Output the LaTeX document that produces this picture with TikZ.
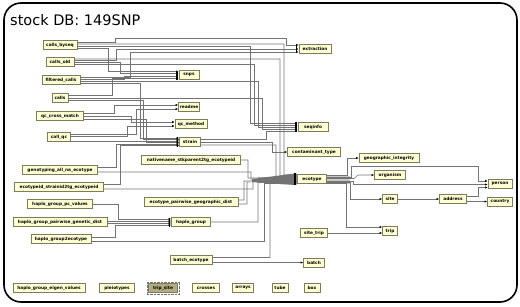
\documentclass[tikz,border=0pt]{standalone}
\usepackage{fontspec}
\setmainfont{DejaVu Sans}
\usetikzlibrary{arrows.meta,calc}
\definecolor{tblfill}{RGB}{255,255,212}
\definecolor{tbldraw}{RGB}{125,125,90}
\definecolor{selfill}{RGB}{178,172,128}
\definecolor{linec}{RGB}{115,115,115}
\begin{document}
\begin{tikzpicture}[x=1pt,y=-1pt,
  tbl/.style={draw=tbldraw, line width=0.5pt, fill=tblfill, minimum height=9pt,
    inner xsep=1pt, inner ysep=0pt, font=\fontsize{4.3}{5}\selectfont\bfseries},
  e/.style={draw=linec, line width=0.6pt, -{Latex[length=2.6pt,width=2.2pt,color=black]}},
  barr/.style={fill=black}]
\useasboundingbox (0,0) rectangle (520,306);
\draw[line width=1.6pt, rounded corners=17pt] (4,3) rectangle (517,302);
\node[anchor=base west, inner sep=0pt, font=\fontsize{14.5}{16}\selectfont] (title) at (10,25) {stock DB: 149SNP};

% ---- tables ----
\node[tbl, minimum width=34pt] (cb)  at (60,45)  {calls\_byseq};
\node[tbl, minimum width=28pt] (co)  at (60,62)  {calls\_old};
\node[tbl, minimum width=38pt] (fc)  at (61,80)  {filtered\_calls};
\node[tbl, minimum width=16pt] (ca)  at (60,98)  {calls};
\node[tbl, minimum width=20pt] (snps) at (189,75) {snps};
\node[tbl, minimum width=21pt] (rd)  at (189,107) {readme};
\node[tbl, minimum width=47pt] (qcm) at (60,116) {qc\_cross\_match};
\node[tbl, minimum width=32pt] (qme) at (191,124) {qc\_method};
\node[tbl, minimum width=23pt] (cq)  at (59,137) {call\_qc};
\node[tbl, minimum width=21pt] (st)  at (190,142) {strain};
\node[tbl, minimum width=99pt] (nat) at (191,160) {nativename\_stkparent2tg\_ecotypeid};
\node[tbl, minimum width=75pt] (gt)  at (60,170) {genotyping\_all\_na\_ecotype};
\node[tbl, minimum width=89pt] (es)  at (59,187) {ecotypeid\_strainid2tg\_ecotypeid};
\node[tbl, minimum width=94pt] (epg) at (191,202) {ecotype\_pairwise\_geographic\_dist};
\node[tbl, minimum width=65pt] (hpc) at (60,204) {haplo\_group\_pc\_values};
\node[tbl, minimum width=94pt] (hpg) at (60,222) {haplo\_group\_pairwise\_genetic\_dist};
\node[tbl, minimum width=39pt] (hg)  at (191,222) {haplo\_group};
\node[tbl, minimum width=60pt] (h2e) at (61,239) {haplo\_group2ecotype};
\node[tbl, minimum width=42pt] (be)  at (191,260) {batch\_ecotype};
\node[tbl, minimum width=72pt] (hev) at (49,288) {haplo\_group\_eigen\_values};
\node[tbl, minimum width=35pt] (plt) at (117,288) {pleiotypes};
\node[tbl, minimum width=29pt, fill=selfill] (ts) at (163,288) {trip\_site};
\node[tbl, minimum width=27pt] (cr)  at (206,288) {crosses};
\node[tbl, minimum width=21pt] (ar)  at (243,288) {arrays};
\node[tbl, minimum width=16pt] (tu)  at (280,288) {tube};
\node[tbl, minimum width=16pt] (bx)  at (312,288) {box};
\node[tbl, minimum width=32pt] (ext) at (315,48.5) {extraction};
\node[tbl, minimum width=30pt] (seq) at (313,127) {seqinfo};
\node[tbl, minimum width=53pt] (ct)  at (314,152) {contaminant\_type};
\node[tbl, minimum width=60pt] (gi)  at (389,158) {geographic\_integrity};
\node[tbl, minimum width=29pt] (eco) at (312,179) {ecotype};
\node[tbl, minimum width=31pt] (org) at (390,175) {organism};
\node[tbl, minimum width=24pt] (per) at (500,184) {person};
\node[tbl, minimum width=15pt] (site) at (390,199) {site};
\node[tbl, minimum width=27pt] (adr) at (453,199) {address};
\node[tbl, minimum width=25pt] (cty) at (500,201.5) {country};
\node[tbl, minimum width=15pt] (trip) at (390,231) {trip};
\node[tbl, minimum width=27pt] (stp) at (314,233) {site\_trip};
\node[tbl, minimum width=21pt] (bat) at (314,262.5) {batch};
\draw[densely dotted, black!55, line width=0.4pt] ($(ts.north west)+(-1.5,-1.5)$) rectangle ($(ts.south east)+(1.5,1.5)$);

% ---- cone and bundle shading ----
\fill[black!55] (252,179) -- (295,173.5) -- (295,185) -- (252,182) -- cycle;
\fill[black!22] ($(eco.east)+(0,-3.5)$) rectangle (350,183.5);

% ---- extraction ----
\draw[e] ($(cb.east)+(0,-3)$) -| (115,38) -| (286,45) -- ($(ext.west)+(0,-3.5)$);
\draw[e] ($(co.east)+(0,-1.5)$) -| (116,49) -- ($(ext.west)+(0,0.5)$);
\draw[e] ($(fc.east)+(0,-3)$) -| (130,52) -- ($(ext.west)+(0,3.5)$);
% ---- snps ----
\draw[e] ($(cb.east)+(0,3)$) -| (108,71.5) -- ($(snps.west)+(0,-3.5)$);
\draw[e] ($(co.east)+(0,0.5)$) -| (120,73.5) -- ($(snps.west)+(0,-1.5)$);
\draw[e] ($(fc.east)+(0,-1)$) -| (124,76) -- ($(snps.west)+(0,1)$);
\draw[e] ($(ca.east)+(0,-2.5)$) -| (112,78.5) -- ($(snps.west)+(0,3.5)$);
% ---- seqinfo ----
\draw[e] ($(cb.east)+(0,1)$) -| (250,123) -- ($(seq.west)+(0,-4)$);
\draw[e] ($(co.east)+(0,2.5)$) -| (254,125) -- ($(seq.west)+(0,-2)$);
\draw[e] ($(fc.east)+(0,1)$) -| (258,127) -- (seq.west);
\draw[e] (ca.east) -| (262,129) -- ($(seq.west)+(0,2)$);
\draw[e] ($(st.east)+(0,-3)$) -| (266,131) -- ($(seq.west)+(0,4)$);
% ---- readme / qc_method ----
\draw[e] ($(qcm.east)+(0,-3)$) -| (114,105) -- ($(rd.west)+(0,-2)$);
\draw[e] ($(cq.east)+(0,-3)$) -| (136,109) -- ($(rd.west)+(0,2)$);
\draw[e] (qcm.east) -| (131,122) -- ($(qme.west)+(0,-2)$);
\draw[e] ($(cq.east)+(0,-0.5)$) -| (127,126) -- ($(qme.west)+(0,2)$);
% ---- strain ----
\draw[e] ($(fc.east)+(0,3)$) -| (140,138) -- ($(st.west)+(0,-4)$);
\draw[e] ($(ca.east)+(0,2.5)$) -| (143,139.5) -- ($(st.west)+(0,-2.5)$);
\draw[e] ($(cq.east)+(0,4)$) -- ($(st.west)+(0,-1)$);
\draw[e] ($(qcm.east)+(0,3)$) -| (146,142.5) -- ($(st.west)+(0,0.5)$);
\draw[e] ($(gt.east)+(0,-3)$) -| (116,144) -- ($(st.west)+(0,2)$);
\draw[e] ($(es.east)+(0,-3)$) -| (120,145.5) -- ($(st.west)+(0,3.5)$);
% ---- contaminant_type ----
\draw[e] (st.east) -| (272,152) -- (ct.west);
% ---- ecotype (incoming) ----
\draw[e] ($(cb.east)+(0,-1)$) -| (284,175) -- ($(eco.west)+(0,-5)$);
\draw[e] ($(co.east)+(0,-3)$) -| (280,176) -- ($(eco.west)+(0,-4)$);
\draw[e] ($(st.east)+(0,3)$) -| (276,177) -- ($(eco.west)+(0,-3)$);
\draw[e] (nat.east) -| (248,178) -- ($(eco.west)+(0,-2)$);
\draw[e] ($(gt.east)+(0,2)$) -| (251,179) -- ($(eco.west)+(0,-1)$);
\draw[e] ($(es.east)+(0,2)$) -| (253,180) -- (eco.west);
\draw[e] ($(epg.east)+(0,-2)$) -| (244,181) -- ($(eco.west)+(0,1)$);
\draw[e] ($(epg.east)+(0,2)$) -| (247,182) -- ($(eco.west)+(0,2)$);
\draw[e] (hg.east) -| (258,182.5) -- ($(eco.west)+(0,3)$);
\draw[e] ($(h2e.east)+(0,2)$) -| (264,183) -- ($(eco.west)+(0,4)$);
\draw[e] ($(be.east)+(0,-2.5)$) -| (270,183.5) -- ($(eco.west)+(0,5)$);
% ---- haplo_group ----
\draw[e] (hpc.east) -| (118,219) -- ($(hg.west)+(0,-3)$);
\draw[e] ($(hpg.east)+(0,-1)$) -- ($(hg.west)+(0,-1)$);
\draw[e] ($(hpg.east)+(0,1)$) -- ($(hg.west)+(0,1)$);
\draw[e] ($(h2e.east)+(0,-2)$) -| (115,225) -- ($(hg.west)+(0,3)$);
% ---- batch ----
\draw[e] ($(be.east)+(0,2.5)$) -- (bat.west);
% ---- ecotype (outgoing) ----
\draw[e] ($(eco.east)+(0,-3.5)$) -| (347,158) -- (gi.west);
\draw[e] ($(eco.east)+(0,-2)$) -| (351,166) -| (478,181) -- ($(per.west)+(0,-3)$);
\draw[e] ($(eco.east)+(0,-0.5)$) -- (354,178.5) -- (358,175) -- (org.west);
\draw[e] ($(eco.east)+(0,2)$) -| (353,184.5) -- ($(per.west)+(0,0.5)$);
\draw[e] ($(eco.east)+(0,3.5)$) -| (350,199) -- (site.west);
\draw[e] ($(eco.east)+(0,4.5)$) -| (346,227) -- ($(trip.west)+(0,-4)$);
\draw[e] (stp.east) -- ($(trip.west)+(0,2)$);
\draw[e] (site.east) -- (adr.west);
\draw[e] ($(adr.east)+(0,-3)$) -| (478,187.5) -- ($(per.west)+(0,3.5)$);
\draw[e] ($(adr.east)+(0,2.5)$) -- (cty.west);

% ---- bars at many-arrow targets ----
\fill[barr] ($(snps.west)+(-2.4,-4.5)$) rectangle ($(snps.west)+(-1.2,4.5)$);
\fill[barr] ($(st.west)+(-2.4,-5)$) rectangle ($(st.west)+(-1.2,5)$);
\fill[barr] ($(seq.west)+(-2.4,-5)$) rectangle ($(seq.west)+(-1.2,5)$);
\fill[barr] ($(hg.west)+(-2.4,-4.5)$) rectangle ($(hg.west)+(-1.2,4.5)$);
\fill[barr] ($(eco.west)+(-3.2,-6)$) rectangle ($(eco.west)+(-0.8,6)$);
\fill[barr] ($(ext.west)+(-2.4,-4)$) rectangle ($(ext.west)+(-1.6,4)$);
\end{tikzpicture}
\end{document}
